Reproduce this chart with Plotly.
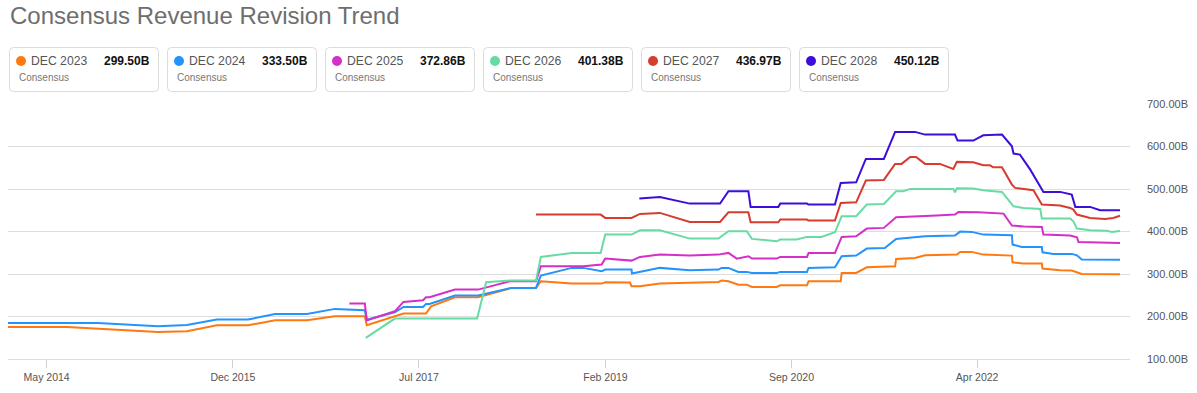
import plotly.graph_objects as go

# ---------------- data ----------------
series_names = ["DEC 2023", "DEC 2024", "DEC 2025", "DEC 2026", "DEC 2027", "DEC 2028"]
latest_values = ["299.50B", "333.50B", "372.86B", "401.38B", "436.97B", "450.12B"]
colors = ["#ff7810", "#2394fb", "#d42fc8", "#68dba2", "#d63c2f", "#3d0dd9"]

dec2023_dates = ["2014-01-01", "2014-07-03", "2015-04-12", "2015-07-11", "2015-10-12", "2016-01-17",
                 "2016-04-10", "2016-07-18", "2016-10-13", "2017-01-14", "2017-01-20", "2017-05-14",
                 "2017-07-23", "2017-08-08", "2017-10-21", "2018-01-01", "2018-04-15", "2018-06-30",
                 "2018-07-15", "2018-10-19", "2019-01-20", "2019-01-31", "2019-04-18", "2019-04-23",
                 "2019-05-19", "2019-07-20", "2020-01-18", "2020-01-28", "2020-02-18", "2020-03-20",
                 "2020-04-15", "2020-05-01", "2020-07-17", "2020-07-28", "2020-10-19", "2020-10-24",
                 "2021-02-01", "2021-02-04", "2021-03-21", "2021-04-23", "2021-07-20", "2021-07-23",
                 "2021-09-20", "2021-10-21", "2022-01-28", "2022-02-07", "2022-03-15", "2022-04-20",
                 "2022-07-18", "2022-07-20", "2022-08-23", "2022-10-19", "2022-10-21", "2022-12-15",
                 "2023-01-20", "2023-02-05", "2023-02-20", "2023-06-19"]
dec2023_values = [175.5, 175.5, 163.8, 165.2, 179.3, 179.3,
                  191.0, 191.0, 200.5, 200.5, 179.3, 206.8,
                  206.8, 224.0, 245.2, 245.2, 267.3, 267.3,
                  282.9, 277.4, 277.4, 280.5, 280.0, 271.0,
                  271.0, 277.4, 281.4, 284.5, 283.0, 275.0,
                  275.0, 269.6, 269.6, 273.4, 273.4, 282.9,
                  282.9, 302.5, 302.5, 315.8, 318.2, 335.5,
                  337.8, 344.0, 345.6, 352.0, 352.0, 345.6,
                  343.3, 327.5, 324.5, 324.5, 312.7, 308.7,
                  308.0, 304.9, 300.2, 299.5]

dec2024_dates = ["2014-01-01", "2014-10-07", "2015-04-12", "2015-07-11", "2015-10-12", "2016-01-17",
                 "2016-04-10", "2016-07-18", "2016-10-13", "2017-01-14", "2017-01-20", "2017-04-17",
                 "2017-05-14", "2017-07-14", "2017-07-23", "2017-08-03", "2017-10-21", "2018-01-01",
                 "2018-04-15", "2018-06-30", "2018-07-15", "2018-10-19", "2018-11-24", "2019-01-20",
                 "2019-01-31", "2019-04-23", "2019-04-24", "2019-07-20", "2019-10-21", "2020-01-18",
                 "2020-01-28", "2020-02-18", "2020-03-20", "2020-04-15", "2020-05-01", "2020-07-17",
                 "2020-07-28", "2020-10-19", "2020-10-24", "2021-01-14", "2021-02-04", "2021-03-21",
                 "2021-04-23", "2021-06-18", "2021-07-23", "2021-09-05", "2021-10-21", "2022-01-22",
                 "2022-02-07", "2022-03-15", "2022-04-20", "2022-07-18", "2022-07-20", "2022-08-18",
                 "2022-10-19", "2022-10-21", "2022-11-24", "2023-01-20", "2023-02-05", "2023-02-20",
                 "2023-06-19"]
dec2024_values = [184.9, 184.9, 177.0, 180.0, 192.7, 192.7,
                  206.1, 206.1, 217.9, 214.6, 192.7, 209.9,
                  222.6, 222.6, 229.6, 229.6, 249.2, 249.2,
                  267.3, 267.3, 296.2, 314.4, 314.4, 306.4,
                  310.4, 310.4, 301.0, 314.4, 308.7, 310.4,
                  314.4, 314.4, 305.0, 305.0, 302.6, 302.6,
                  305.0, 305.0, 314.4, 315.8, 341.7, 343.3,
                  359.8, 361.4, 382.6, 384.9, 388.7, 390.4,
                  399.8, 399.1, 392.7, 391.1, 369.2, 363.8,
                  363.8, 351.1, 347.3, 347.3, 344.0, 333.9,
                  333.5]

dec2025_dates = ["2016-11-27", "2017-01-14", "2017-01-20", "2017-04-17", "2017-05-14", "2017-07-14",
                 "2017-07-23", "2017-08-03", "2017-10-21", "2018-01-01", "2018-04-10", "2018-06-30",
                 "2018-07-15", "2018-11-24", "2019-01-20", "2019-01-31", "2019-04-23", "2019-05-19",
                 "2019-07-20", "2019-10-21", "2020-01-18", "2020-02-18", "2020-03-15", "2020-04-20",
                 "2020-05-01", "2020-07-17", "2020-07-28", "2020-10-19", "2020-10-24", "2021-01-14",
                 "2021-02-04", "2021-03-21", "2021-04-23", "2021-06-15", "2021-07-23", "2021-09-05",
                 "2021-11-26", "2022-01-22", "2022-02-02", "2022-04-05", "2022-06-22", "2022-07-18",
                 "2022-08-23", "2022-10-19", "2022-10-24", "2023-01-15", "2023-02-05", "2023-02-10",
                 "2023-06-19"]
dec2025_values = [230.4, 230.4, 191.0, 212.2, 234.4, 238.1,
                  245.2, 245.2, 263.3, 263.3, 282.9, 282.9,
                  318.2, 318.2, 322.1, 336.2, 331.5, 340.2,
                  345.6, 343.3, 345.6, 349.6, 336.2, 341.7,
                  336.2, 336.2, 340.2, 340.2, 349.6, 349.6,
                  387.3, 388.7, 406.8, 408.5, 433.4, 434.4,
                  437.4, 439.8, 446.1, 445.2, 442.1, 413.9,
                  412.0, 410.8, 392.7, 390.4, 386.4, 375.5,
                  372.86]

dec2026_dates = ["2017-01-17", "2017-04-17", "2017-12-29", "2018-01-26", "2018-04-10", "2018-06-30",
                 "2018-07-15", "2018-10-19", "2019-01-17", "2019-01-31", "2019-04-23", "2019-05-19",
                 "2019-07-20", "2019-10-21", "2020-01-18", "2020-02-18", "2020-04-15", "2020-05-01",
                 "2020-07-17", "2020-07-28", "2020-09-17", "2020-10-19", "2020-12-03", "2020-12-29",
                 "2021-01-14", "2021-02-04", "2021-03-21", "2021-04-23", "2021-06-15", "2021-07-23",
                 "2021-08-14", "2021-09-05", "2022-01-17", "2022-01-22", "2022-01-28", "2022-03-20",
                 "2022-04-20", "2022-06-17", "2022-07-23", "2022-08-23", "2022-10-14", "2022-10-19",
                 "2023-01-15", "2023-01-25", "2023-02-05", "2023-03-18", "2023-05-09", "2023-05-24",
                 "2023-06-19"]
dec2026_values = [149.6, 195.1, 195.1, 280.5, 284.5, 284.5,
                  340.2, 349.6, 349.6, 392.7, 392.7, 402.8,
                  402.8, 383.3, 383.3, 400.5, 400.5, 382.6,
                  377.0, 381.0, 381.0, 387.3, 387.3, 394.4,
                  398.1, 435.8, 435.8, 463.3, 464.9, 494.6,
                  494.6, 500.2, 500.2, 492.2, 501.7, 501.0,
                  497.0, 493.2, 459.3, 455.5, 453.2, 430.4,
                  430.4, 424.0, 406.8, 402.8, 402.0, 399.1,
                  401.38]

dec2027_dates = ["2018-06-30", "2019-01-17", "2019-01-31", "2019-04-23", "2019-05-19", "2019-07-20",
                 "2019-10-21", "2020-01-23", "2020-02-18", "2020-04-20", "2020-04-27", "2020-07-22",
                 "2020-07-28", "2020-10-19", "2020-10-24", "2021-01-14", "2021-02-01", "2021-03-21",
                 "2021-04-20", "2021-06-15", "2021-07-20", "2021-08-09", "2021-09-05", "2021-09-23",
                 "2021-10-21", "2021-12-06", "2022-01-17", "2022-01-28", "2022-03-20", "2022-04-20",
                 "2022-05-11", "2022-05-21", "2022-06-17", "2022-07-18", "2022-07-28", "2022-09-13",
                 "2022-09-23", "2022-10-19", "2022-12-15", "2023-01-15", "2023-01-25", "2023-02-05",
                 "2023-02-15", "2023-03-18", "2023-05-03", "2023-05-29", "2023-06-19"]
dec2027_values = [439.8, 439.8, 432.0, 432.0, 441.4, 443.8,
                  422.6, 422.6, 445.2, 445.2, 421.7, 421.7,
                  428.0, 428.0, 425.7, 425.7, 467.3, 468.7,
                  519.8, 521.4, 559.1, 559.1, 575.5, 575.5,
                  559.1, 559.1, 547.3, 563.8, 562.8, 555.8,
                  555.8, 551.1, 551.1, 510.4, 502.6, 498.6,
                  497.0, 463.3, 461.0, 455.5, 451.5, 439.8,
                  438.1, 432.0, 429.6, 432.0, 436.97]

dec2028_dates = ["2019-05-17", "2019-07-20", "2019-10-21", "2020-01-23", "2020-02-18", "2020-04-20",
                 "2020-04-27", "2020-07-22", "2020-07-28", "2020-10-19", "2020-10-24", "2021-01-14",
                 "2021-02-01", "2021-03-21", "2021-04-20", "2021-06-15", "2021-07-20", "2021-09-20",
                 "2021-10-21", "2022-01-22", "2022-01-30", "2022-03-20", "2022-04-20", "2022-06-17",
                 "2022-07-18", "2022-07-23", "2022-08-12", "2022-09-13", "2022-10-24", "2022-12-15",
                 "2023-01-20", "2023-01-31", "2023-03-18", "2023-04-18", "2023-06-19"]
dec2028_values = [477.4, 481.4, 465.6, 465.6, 494.6, 494.6,
                  457.9, 457.9, 465.6, 465.6, 463.3, 463.3,
                  514.4, 515.8, 570.8, 570.8, 634.4, 634.4,
                  628.0, 628.0, 613.9, 613.9, 626.4, 628.0,
                  600.5, 583.3, 581.0, 545.6, 493.2, 493.2,
                  486.8, 457.9, 457.9, 449.9, 450.12]

y_tick_values = [100, 200, 300, 400, 500, 600, 700]
y_tick_labels = ["100.00B", "200.00B", "300.00B", "400.00B", "500.00B", "600.00B", "700.00B"]
x_tick_dates = ["2014-05-01", "2015-12-01", "2017-07-01", "2019-02-01", "2020-09-01", "2022-04-01"]
x_tick_labels = ["May 2014", "Dec 2015", "Jul 2017", "Feb 2019", "Sep 2020", "Apr 2022"]
x_range = ["2014-01-01", "2023-07-20"]
y_range = [100, 700]

# ---------------- figure ----------------
# The page body margin is removed by a post script, so the figure starts at the page corner.
OFF = 0
W, H = 1197 - OFF, 393 - OFF
ML, MR, MT, MB = 8, 67, 104, 34
PW, PH = W - ML - MR, H - MT - MB
FONT = "Liberation Sans, Arial, sans-serif"


def px_x(px):  # page pixel -> paper
    return (px - OFF - ML) / PW


def px_y(py):
    return (H - MB - (py - OFF)) / PH


all_dates = [dec2023_dates, dec2024_dates, dec2025_dates, dec2026_dates, dec2027_dates, dec2028_dates]
all_values = [dec2023_values, dec2024_values, dec2025_values, dec2026_values, dec2027_values, dec2028_values]

fig = go.Figure()
for name, dates, vals, col in zip(series_names, all_dates, all_values, colors):
    fig.add_trace(go.Scatter(x=dates, y=vals, mode="lines", name=name,
                             line=dict(color=col, width=2), hoverinfo="x+y", cliponaxis=False))

shapes = []
annotations = []

# title
annotations.append(dict(text="Consensus Revenue Revision Trend", xref="paper", yref="paper",
                        x=px_x(8), y=px_y(16), xanchor="left", yanchor="middle", showarrow=False,
                        font=dict(family=FONT, size=24, color="#6e6e6e")))


def rounded_rect(x0, y0, x1, y1, r):
    X = lambda v: px_x(v)
    Y = lambda v: px_y(v)
    return (f"M {X(x0 + r)} {Y(y0)} L {X(x1 - r)} {Y(y0)} Q {X(x1)} {Y(y0)} {X(x1)} {Y(y0 + r)} "
            f"L {X(x1)} {Y(y1 - r)} Q {X(x1)} {Y(y1)} {X(x1 - r)} {Y(y1)} "
            f"L {X(x0 + r)} {Y(y1)} Q {X(x0)} {Y(y1)} {X(x0)} {Y(y1 - r)} "
            f"L {X(x0)} {Y(y0 + r)} Q {X(x0)} {Y(y0)} {X(x0 + r)} {Y(y0)} Z")


for i, (name, val, col) in enumerate(zip(series_names, latest_values, colors)):
    left = 9.5 + i * 158
    right = left + 149
    shapes.append(dict(type="path", xref="paper", yref="paper",
                       path=rounded_rect(left, 47.5, right, 91.5, 4),
                       line=dict(color="#dcdcdc", width=1), fillcolor="white", layer="above"))
    shapes.append(dict(type="circle", xref="paper", yref="paper",
                       x0=px_x(left + 6.5), x1=px_x(left + 16.5), y0=px_y(66), y1=px_y(56),
                       fillcolor=col, line=dict(color=col, width=0), layer="above"))
    annotations.append(dict(text=name, xref="paper", yref="paper", x=px_x(left + 19.5), y=px_y(61),
                            xanchor="left", yanchor="middle", showarrow=False,
                            font=dict(family=FONT, size=12.2, color="#555555")))
    annotations.append(dict(text=f"<b>{val}</b>", xref="paper", yref="paper", x=px_x(left + 142), y=px_y(61),
                            xanchor="right", yanchor="middle", showarrow=False,
                            font=dict(family=FONT, size=12, color="#111111")))
    annotations.append(dict(text="Consensus", xref="paper", yref="paper", x=px_x(left + 7.5), y=px_y(78),
                            xanchor="left", yanchor="middle", showarrow=False,
                            font=dict(family=FONT, size=10, color="#777777")))

fig.update_layout(
    width=W, height=H,
    margin=dict(l=ML, r=MR, t=MT, b=MB, pad=0, autoexpand=False),
    paper_bgcolor="white", plot_bgcolor="white",
    showlegend=False,
    shapes=shapes, annotations=annotations,
    font=dict(family=FONT),
    xaxis=dict(type="date", range=x_range, tickvals=x_tick_dates, ticktext=x_tick_labels,
               showgrid=False, zeroline=False, showline=True, linecolor="#dddddd", linewidth=1,
               ticks="outside", ticklen=8, tickcolor="#d0d0d0", tickwidth=1, automargin=False,
               tickfont=dict(family=FONT, size=10.5, color="#555555")),
    yaxis=dict(range=y_range, side="right", tickvals=y_tick_values, ticktext=y_tick_labels,
               showgrid=True, gridcolor="#dddddd", gridwidth=1, zeroline=False, showline=False,
               ticks="", ticklabelstandoff=16, automargin=False,
               tickfont=dict(family=FONT, size=11, color="#555555")),
)

fig.write_html("out.html", config={"displayModeBar": False},
               post_script="document.body.style.margin='0px';")
